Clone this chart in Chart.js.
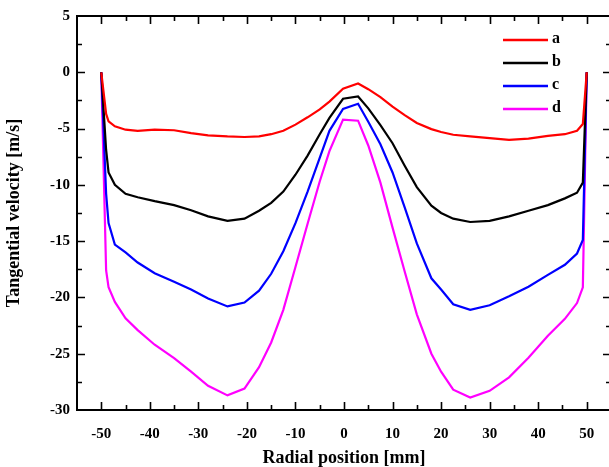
<!DOCTYPE html>
<html>
<head>
<meta charset="utf-8">
<script src="https://cdn.jsdelivr.net/npm/chart.js@4.4.1/dist/chart.umd.min.js"></script>
<style>
html,body{margin:0;padding:0;background:#fff;overflow:hidden;width:609px;height:467px;}
#wrap{position:absolute;left:0;top:0;width:613px;height:467px;}
</style>
</head>
<body>
<div id="wrap"><canvas id="c" width="613" height="467"></canvas></div>
<script>
// Radial positions [mm]
const positions = [-50, -49, -48.5, -47.2, -45, -42.5, -39, -35, -31.5, -28, -24, -20.5, -17.5, -15, -12.5, -10, -7.5, -5, -3, -0.2, 2.9, 5, 7.5, 10, 12.5, 15, 18, 20, 22.5, 26, 30, 34, 38, 42, 45.5, 48, 49.2, 50];
// Tangential velocity [m/s]
const seriesA = [0, -3.7, -4.35, -4.8, -5.1, -5.2, -5.1, -5.15, -5.4, -5.6, -5.7, -5.75, -5.7, -5.5, -5.2, -4.65, -4.0, -3.3, -2.6, -1.45, -1.0, -1.5, -2.2, -3.05, -3.8, -4.5, -5.05, -5.3, -5.55, -5.7, -5.85, -6.0, -5.9, -5.65, -5.5, -5.2, -4.6, 0];
const seriesB = [0, -6.9, -8.9, -10.0, -10.8, -11.1, -11.45, -11.8, -12.25, -12.8, -13.2, -13.0, -12.3, -11.6, -10.6, -9.1, -7.4, -5.5, -4.05, -2.35, -2.15, -3.2, -4.7, -6.3, -8.3, -10.2, -11.85, -12.5, -13.0, -13.3, -13.2, -12.8, -12.3, -11.8, -11.2, -10.7, -9.8, 0];
const seriesC = [0, -10.8, -13.4, -15.3, -16.0, -16.9, -17.85, -18.6, -19.3, -20.1, -20.8, -20.45, -19.4, -17.9, -15.9, -13.4, -10.6, -7.6, -5.2, -3.25, -2.8, -4.4, -6.4, -8.9, -12.0, -15.2, -18.3, -19.3, -20.6, -21.1, -20.7, -19.9, -19.05, -18.0, -17.1, -16.1, -14.9, 0];
const seriesD = [0, -17.6, -19.1, -20.4, -21.85, -22.9, -24.2, -25.4, -26.6, -27.85, -28.7, -28.1, -26.2, -24.0, -21.1, -17.3, -13.45, -9.7, -7.0, -4.2, -4.3, -6.5, -9.8, -13.8, -17.7, -21.5, -25.0, -26.6, -28.2, -28.9, -28.3, -27.1, -25.35, -23.4, -21.9, -20.5, -19.1, 0];
const seriesLabels = ['a', 'b', 'c', 'd'];
const xTickValues = [-50, -40, -30, -20, -10, 0, 10, 20, 30, 40, 50];
const yTickValues = [5, 0, -5, -10, -15, -20, -25, -30];

const colors = ['#ff0000', '#000000', '#0000ff', '#ff00ff'];
const allSeries = [seriesA, seriesB, seriesC, seriesD];
const FONT = '"Liberation Serif", "Times New Roman", serif';

const frameTicks = {
  id: 'frameTicks',
  afterDatasetsDraw(chart) {
    const ctx = chart.ctx, a = chart.chartArea;
    const xs = chart.scales.x, ys = chart.scales.y;
    ctx.save();
    ctx.strokeStyle = '#000';
    ctx.lineWidth = 2;
    ctx.beginPath();
    ctx.moveTo(a.right + 2, a.top); ctx.lineTo(a.left, a.top);
    ctx.lineTo(a.left, a.bottom); ctx.lineTo(a.right + 2, a.bottom);
    ctx.stroke();
    ctx.lineWidth = 1.6;
    ctx.beginPath();
    for (let v = -50; v <= 50; v += 5) {
      const px = Math.round(xs.getPixelForValue(v)) + 0.5;
      const len = (v % 10 === 0) ? 8 : 5;
      ctx.moveTo(px, a.bottom); ctx.lineTo(px, a.bottom - len);
      ctx.moveTo(px, a.top); ctx.lineTo(px, a.top + len);
    }
    for (let v = -27.5; v <= 2.5; v += 2.5) {
      const py = Math.round(ys.getPixelForValue(v)) + 0.5;
      const len = (Math.abs(v % 5) < 0.01) ? 8 : 5;
      ctx.moveTo(a.left, py); ctx.lineTo(a.left + len, py);
      ctx.moveTo(a.right, py); ctx.lineTo(a.right - len, py);
    }
    ctx.stroke();
    // legend
    ctx.font = 'bold 16px ' + FONT;
    ctx.textBaseline = 'middle';
    ctx.textAlign = 'left';
    chart.data.datasets.forEach((ds, i) => {
      const y = 40 + i * 23;
      ctx.strokeStyle = ds.borderColor;
      ctx.lineWidth = 2.5;
      ctx.beginPath();
      ctx.moveTo(503, y); ctx.lineTo(548, y);
      ctx.stroke();
      ctx.fillStyle = '#000';
      ctx.fillText(ds.label, 552, y - 1);
    });
    ctx.restore();
  }
};

new Chart(document.getElementById('c'), {
  type: 'line',
  data: {
    datasets: allSeries.map((s, i) => ({
      label: seriesLabels[i],
      data: positions.map((x, j) => ({ x: x, y: s[j] })),
      borderColor: colors[i],
      backgroundColor: colors[i],
      borderWidth: 2.2,
      pointRadius: 0,
      tension: 0,
      fill: false
    }))
  },
  options: {
    responsive: false,
    animation: false,
    devicePixelRatio: 1,
    layout: { padding: { top: 14, right: 2, left: 0, bottom: 0 } },
    plugins: { legend: { display: false }, tooltip: { enabled: false } },
    scales: {
      x: {
        type: 'linear', min: -55, max: 55,
        afterBuildTicks(scale) { scale.ticks = xTickValues.map(v => ({ value: v })); },
        afterFit(scale) { scale.height = 57; },
        grid: { display: false, drawTicks: false },
        border: { display: false },
        ticks: { color: '#000', padding: 15, maxRotation: 0, autoSkip: false, font: { family: FONT, size: 15, weight: 'bold' } },
        title: { display: true, text: 'Radial position [mm]', color: '#000', padding: { top: 0, bottom: -2 }, font: { family: FONT, size: 18, weight: 'bold' } }
      },
      y: {
        type: 'linear', min: -30, max: 5,
        afterBuildTicks(scale) { scale.ticks = yTickValues.map(v => ({ value: v })); },
        afterFit(scale) { scale.width = 77; },
        grid: { display: false, drawTicks: false },
        border: { display: false },
        ticks: { color: '#000', padding: 7, autoSkip: false, font: { family: FONT, size: 15, weight: 'bold' } },
        title: { display: true, text: 'Tangential velocity [m/s]', color: '#000', padding: { top: 4, bottom: 0 }, font: { family: FONT, size: 18, weight: 'bold' } }
      }
    }
  },
  plugins: [frameTicks]
});
</script>
</body>
</html>
